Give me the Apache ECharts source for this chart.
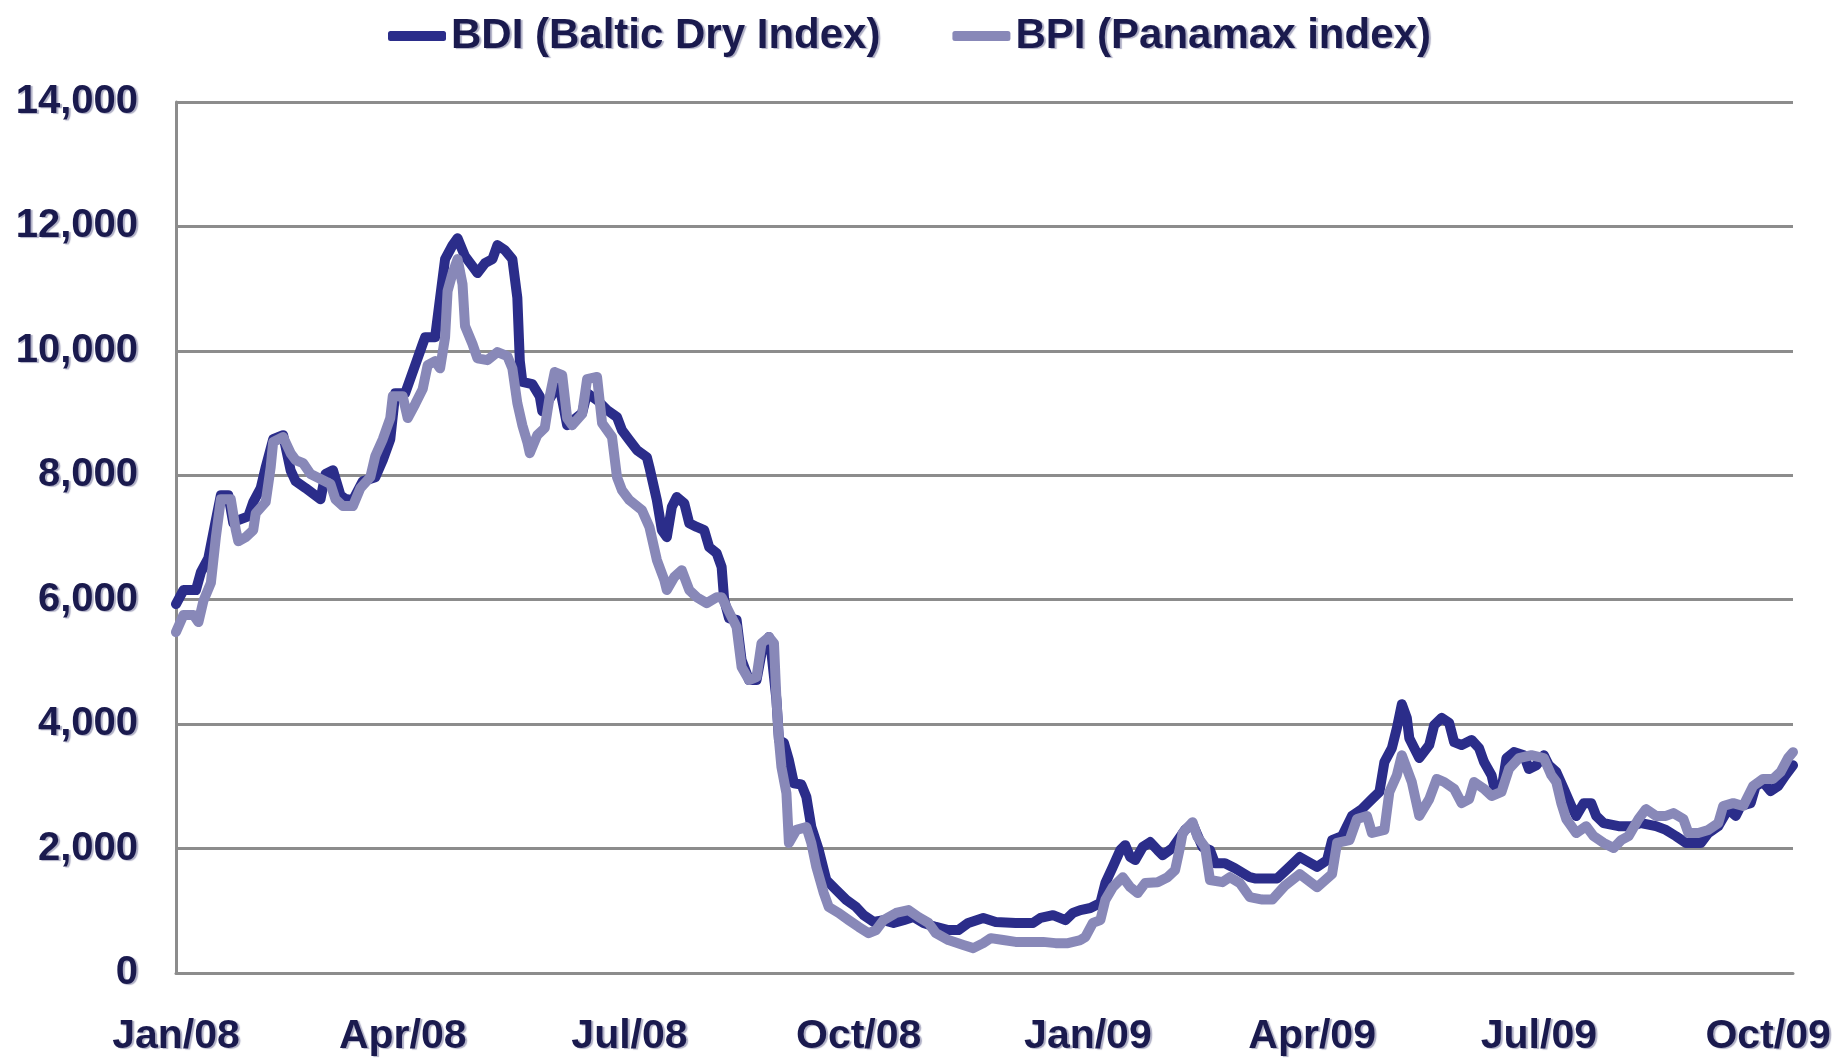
<!DOCTYPE html>
<html>
<head>
<meta charset="utf-8">
<title>BDI / BPI</title>
<script src="https://cdn.jsdelivr.net/npm/echarts@6/dist/echarts.min.js"></script>
<style>
  html, body { margin: 0; padding: 0; background: #fff; }
  #chart { width: 1832px; height: 1058px; }
</style>
</head>
<body>
<div id="chart"></div>
<script>
// x = days since 1 Jan 2008
var xTickDays = [0, 91, 182, 274, 366, 456, 547, 639]
var xTickLabels = ['Jan/08', 'Apr/08', 'Jul/08', 'Oct/08', 'Jan/09', 'Apr/09', 'Jul/09', 'Oct/09']

var bdiDays = [0, 3, 8, 10, 13, 16, 18, 21, 23, 25, 29, 31, 34, 36, 39, 43, 46, 48, 52, 58, 60, 63, 66, 68, 71, 75, 80, 83, 86, 88, 92, 94, 96, 99, 100, 104, 106, 108, 111, 113, 116, 119, 121, 124, 127, 129, 132, 135, 137, 138, 139, 143, 146, 147, 151, 154, 157, 163, 165, 169, 173, 177, 179, 182, 185, 189, 190, 193, 195, 197, 199, 201, 204, 206, 209, 212, 214, 217, 219, 220, 222, 225, 227, 230, 233, 235, 238, 239, 241, 242, 244, 246, 248, 251, 253, 255, 258, 261, 265, 269, 273, 276, 280, 284, 288, 292, 296, 300, 305, 310, 314, 318, 324, 329, 337, 344, 347, 352, 357, 360, 363, 367, 371, 373, 376, 379, 381, 383, 385, 388, 391, 394, 396, 400, 403, 405, 408, 412, 415, 417, 421, 425, 431, 433, 442, 447, 451, 458, 462, 464, 468, 472, 476, 480, 483, 485, 488, 490, 492, 494, 495, 499, 503, 505, 508, 511, 513, 516, 520, 523, 525, 528, 529, 532, 534, 537, 541, 543, 546, 549, 551, 554, 557, 560, 562, 565, 568, 570, 573, 579, 584, 588, 594, 598, 602, 606, 612, 615, 619, 623, 626, 628, 632, 634, 637, 640, 643, 646, 649]
var bdiValues = [5930, 6155, 6155, 6444, 6670, 7280, 7680, 7680, 7230, 7280, 7340, 7570, 7795, 8130, 8580, 8645, 8080, 7905, 7795, 7615, 8020, 8080, 7680, 7620, 7600, 7905, 7970, 8245, 8580, 9320, 9320, 9545, 9770, 10110, 10220, 10220, 10850, 11475, 11700, 11810, 11520, 11360, 11250, 11410, 11475, 11700, 11620, 11475, 10850, 9835, 9500, 9465, 9270, 9030, 9300, 9420, 8805, 9000, 9320, 9210, 9050, 8935, 8725, 8565, 8405, 8290, 8130, 7600, 7120, 7005, 7490, 7650, 7550, 7230, 7170, 7120, 6845, 6750, 6525, 6000, 5700, 5675, 5030, 4710, 4710, 5140, 5400, 5140, 4390, 3745, 3700, 3420, 3050, 3030, 2830, 2345, 1975, 1495, 1335, 1175, 1060, 930, 820, 850, 805, 850, 900, 805, 740, 690, 690, 805, 885, 820, 805, 805, 885, 930, 850, 965, 1012, 1045, 1125, 1445, 1705, 1975, 2055, 1865, 1815, 2025, 2105, 1975, 1895, 2010, 2185, 2300, 2400, 2025, 1975, 1765, 1765, 1685, 1540, 1520, 1520, 1708, 1865, 1705, 1815, 2135, 2200, 2525, 2635, 2795, 2910, 3390, 3615, 3935, 4320, 4100, 3775, 3455, 3665, 3985, 4100, 4020, 3710, 3665, 3745, 3615, 3390, 3180, 3005, 2950, 3455, 3550, 3500, 3280, 3340, 3500, 3340, 3230, 2960, 2685, 2525, 2730, 2730, 2525, 2410, 2360, 2360, 2410, 2360, 2300, 2200, 2090, 2090, 2250, 2360, 2635, 2525, 2685, 2730, 3005, 3070, 2925, 3005, 3180, 3340]

var bpiDays = [0, 3, 7, 9, 11, 14, 16, 18, 22, 24, 25, 28, 31, 32, 36, 38, 39, 43, 46, 48, 51, 54, 58, 62, 64, 67, 71, 74, 78, 80, 83, 86, 87, 91, 93, 96, 99, 101, 104, 106, 108, 109, 111, 113, 115, 116, 119, 121, 125, 129, 133, 135, 137, 139, 141, 142, 145, 148, 150, 152, 155, 157, 159, 163, 165, 169, 171, 175, 177, 179, 182, 187, 190, 193, 196, 197, 200, 203, 206, 209, 213, 217, 219, 223, 225, 227, 230, 233, 235, 238, 240, 241, 242, 243, 245, 246, 249, 253, 255, 257, 260, 262, 266, 270, 274, 278, 281, 284, 289, 294, 298, 302, 305, 310, 316, 320, 324, 327, 332, 337, 348, 353, 358, 363, 365, 368, 371, 373, 376, 380, 383, 386, 389, 394, 398, 401, 403, 404, 408, 410, 413, 415, 420, 423, 427, 431, 436, 440, 445, 451, 458, 464, 466, 471, 474, 478, 480, 485, 487, 490, 492, 496, 499, 503, 506, 509, 513, 516, 519, 521, 525, 528, 532, 535, 539, 544, 549, 552, 554, 556, 558, 562, 566, 569, 573, 577, 580, 583, 587, 590, 594, 598, 601, 605, 607, 611, 615, 619, 621, 625, 629, 633, 637, 641, 644, 647, 649]
var bpiValues = [5480, 5755, 5755, 5640, 5980, 6270, 7005, 7615, 7615, 7120, 6940, 7005, 7120, 7390, 7570, 8130, 8535, 8615, 8355, 8245, 8195, 8020, 7940, 7860, 7615, 7505, 7505, 7795, 7970, 8310, 8580, 8920, 9270, 9270, 8920, 9145, 9385, 9770, 9835, 9720, 10220, 10960, 11250, 11475, 11070, 10400, 10110, 9880, 9850, 9980, 9915, 9720, 9160, 8805, 8535, 8355, 8645, 8760, 9270, 9660, 9610, 8920, 8805, 8985, 9545, 9580, 8840, 8615, 7970, 7760, 7600, 7440, 7170, 6640, 6315, 6155, 6365, 6475, 6155, 6040, 5945, 6040, 6040, 5720, 5560, 4920, 4710, 4755, 5300, 5400, 5300, 4390, 3745, 3310, 2890, 2090, 2300, 2345, 2090, 1705, 1285, 1060, 965, 850, 740, 640, 690, 850, 965, 1012, 900, 805, 640, 530, 450, 400, 480, 560, 530, 500, 500, 480, 480, 530, 580, 805, 850, 1175, 1380, 1540, 1380, 1285, 1445, 1460, 1540, 1655, 2025, 2250, 2425, 2185, 2025, 1495, 1460, 1540, 1445, 1220, 1180, 1180, 1400, 1590, 1380, 1590, 2090, 2135, 2475, 2525, 2250, 2300, 2910, 3180, 3500, 3070, 2525, 2795, 3120, 3070, 2960, 2730, 2795, 3070, 2960, 2845, 2910, 3280, 3455, 3500, 3455, 3180, 3070, 2730, 2475, 2250, 2360, 2200, 2090, 2010, 2135, 2200, 2475, 2635, 2525, 2525, 2570, 2475, 2250, 2250, 2300, 2410, 2685, 2730, 2685, 3005, 3120, 3120, 3230, 3455, 3550]

var zip = function (xs, ys) {
  return xs.map(function (x, i) { return [x, ys[i]] })
}

var textColor = '#1a1a4e'
var gridColor = '#8c8c8c'
var fontFamily = '"Liberation Sans", Arial, sans-serif'
var shadow = {
  textShadowColor: 'rgba(110,110,150,0.55)',
  textShadowOffsetX: 2,
  textShadowOffsetY: 1,
  textShadowBlur: 1
}

var chart = echarts.init(document.getElementById('chart'))

var option = {
  backgroundColor: '#fff',
  animation: false,
  legend: {
    left: 383,
    top: 10,
    itemWidth: 58,
    itemHeight: 10,
    itemGap: 72,
    icon: 'roundRect',
    textStyle: Object.assign({
      color: textColor,
      fontFamily: fontFamily,
      fontWeight: 'bold',
      fontSize: 42
    }, shadow),
    data: ['BDI (Baltic Dry Index)', 'BPI (Panamax index)']
  },
  grid: {
    left: 176,
    right: 39,
    top: 102,
    bottom: 85,
    containLabel: false,
    outerBoundsMode: 'none'
  },
  xAxis: {
    type: 'value',
    min: 0,
    max: 649,
    axisLine: { show: true, lineStyle: { color: gridColor, width: 3 } },
    axisTick: { show: false },
    splitLine: { show: false },
    axisLabel: Object.assign({
      customValues: xTickDays,
      margin: 43,
      color: textColor,
      fontFamily: fontFamily,
      fontWeight: 'bold',
      fontSize: 41,
      formatter: function (v) {
        var i = xTickDays.indexOf(v)
        return i >= 0 ? xTickLabels[i] : ''
      }
    }, shadow)
  },
  yAxis: {
    type: 'value',
    min: 0,
    max: 14000,
    interval: 2000,
    axisLine: { show: true, lineStyle: { color: gridColor, width: 3 } },
    axisTick: { show: false },
    splitLine: { show: true, lineStyle: { color: gridColor, width: 3 } },
    axisLabel: Object.assign({
      margin: 38,
      color: textColor,
      fontFamily: fontFamily,
      fontWeight: 'bold',
      fontSize: 40,
      formatter: function (v) {
        return v.toLocaleString('en-US')
      }
    }, shadow)
  },
  series: [
    {
      name: 'BDI (Baltic Dry Index)',
      type: 'line',
      symbol: 'none',
      data: zip(bdiDays, bdiValues),
      lineStyle: { color: '#2b2d8a', width: 10, join: 'round', cap: 'round' },
      itemStyle: { color: '#2b2d8a' }
    },
    {
      name: 'BPI (Panamax index)',
      type: 'line',
      symbol: 'none',
      data: zip(bpiDays, bpiValues),
      lineStyle: { color: '#8888b8', width: 10, join: 'round', cap: 'round' },
      itemStyle: { color: '#8888b8' }
    }
  ]
}

chart.setOption(option)
</script>
</body>
</html>
